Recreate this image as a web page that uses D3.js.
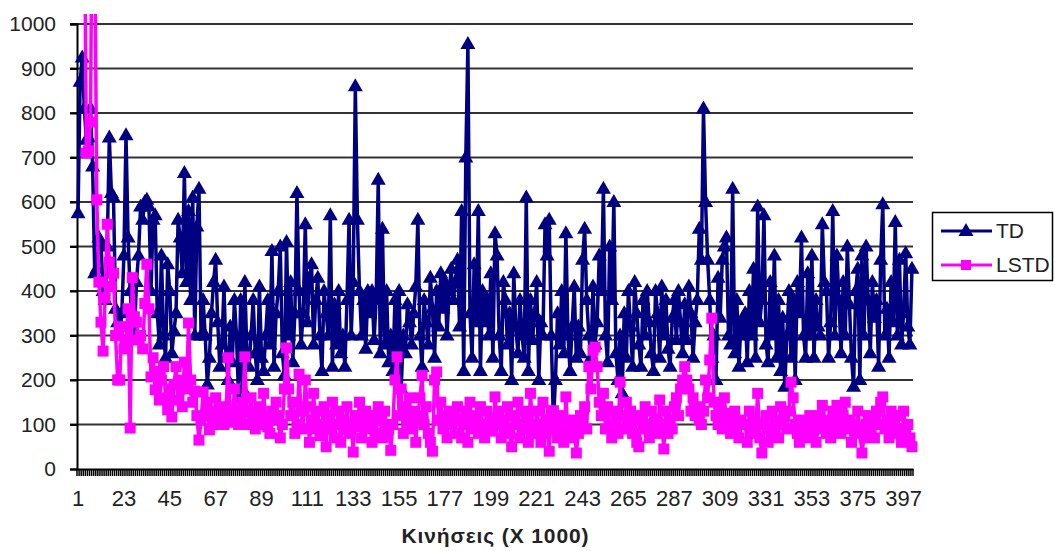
<!DOCTYPE html>
<html>
<head>
<meta charset="utf-8">
<script src="https://cdn.jsdelivr.net/npm/d3@7"></script>
<style>
  body { margin: 0; background: #fff; }
  svg { display: block; font-family: "Liberation Sans", Arial, sans-serif; }
</style>
</head>
<body>
<div id="chart"></div>
<script>
// TD series, values (blocks of 20 moves)
var tdValues = [
  575, 870, 925, 810, 740, 745, 810, 680, 440, 450, 520, 510, 400, 380, 500, 745, 620, 610, 360, 330,
  300, 350, 480, 750, 520, 400, 330, 290, 420, 480, 590, 560, 600, 605, 590, 400, 560, 570, 350, 280,
  480, 300, 250, 460, 400, 260, 310, 350, 560, 520, 440, 665, 420, 580, 380, 610, 300, 545, 630, 300,
  380, 300, 190, 250, 350, 420, 470, 330, 230, 280, 410, 250, 200, 320, 240, 380, 300, 160, 380, 180,
  420, 260, 230, 300, 380, 260, 200, 410, 250, 220, 300, 380, 280, 490, 230, 350, 400, 500, 260, 210,
  510, 300, 420, 240, 350, 620, 400, 280, 350, 550, 330, 430, 460, 280, 380, 430, 300, 220, 400, 350,
  300, 570, 230, 370, 280, 400, 260, 300, 230, 380, 560, 300, 420, 860, 560, 400, 300, 380, 270, 400,
  350, 400, 290, 380, 650, 260, 540, 280, 400, 240, 300, 220, 380, 260, 400, 180, 300, 260, 370, 330,
  280, 350, 410, 560, 300, 230, 380, 330, 280, 430, 360, 250, 400, 320, 440, 360, 420, 300, 400, 450,
  380, 420, 470, 320, 580, 220, 700, 955, 350, 250, 460, 330, 580, 220, 400, 330, 380, 300, 440, 250,
  530, 480, 300, 220, 420, 380, 280, 350, 200, 440, 320, 260, 380, 300, 250, 610, 220, 380, 290, 350,
  420, 200, 330, 300, 550, 480, 560, 300, 105, 200, 350, 280, 400, 260, 530, 300, 220, 320, 410, 250,
  320, 260, 470, 540, 380, 300, 250, 410, 280, 330, 480, 400, 630, 300, 240, 500, 380, 600, 260, 200,
  300, 170, 350, 250, 400, 320, 230, 420, 350, 280, 230, 380, 300, 400, 330, 260, 220, 400, 350, 250,
  410, 300, 380, 270, 230, 340, 380, 290, 400, 330, 260, 370, 290, 410, 350, 250, 330, 380, 540, 470,
  810, 600, 470, 380, 250, 300, 200, 430, 340, 470, 500, 520, 300, 280, 630, 260, 380, 230, 330, 300,
  350, 240, 400, 300, 450, 250, 590, 330, 380, 570, 280, 240, 420, 300, 480, 250, 380, 220, 340, 185,
  300, 400, 250, 380, 200, 420, 350, 520, 300, 250, 440, 300, 480, 250, 380, 320, 300, 550, 420, 400,
  250, 330, 580, 300, 480, 380, 260, 420, 300, 500, 370, 250, 185, 400, 450, 200, 480, 300, 500, 380,
  260, 420, 340, 380, 230, 470, 595, 300, 360, 250, 420, 330, 555, 300, 470, 280, 350, 485, 320, 280,
  450
];

// LSTD series (first points go off the top of the chart)
var lstdValues = [
  1600, 2400, 1900, 1300, 710, 715, 780, 1500, 1200, 605, 420, 330, 265, 385, 550, 465, 410, 440, 300, 200,
  200, 320, 270, 283, 360, 92, 430, 342, 330, 290, 300, 270, 372, 460, 360, 207, 250, 178, 220, 155,
  200, 230, 160, 133, 180, 117, 190, 230, 155, 200, 140, 240, 180, 328, 200, 150, 175, 120, 65, 110,
  173, 120, 150, 88, 130, 100, 160, 115, 110, 140, 100, 130, 250, 120, 105, 180, 130, 100, 120, 150,
  252, 130, 100, 160, 120, 90, 110, 140, 100, 170, 120, 95, 80, 130, 110, 150, 120, 70, 100, 180,
  272, 180, 120, 150, 80, 100, 213, 130, 90, 200, 140, 60, 110, 170, 90, 130, 75, 100, 140, 50,
  120, 90, 150, 70, 100, 130, 60, 110, 90, 140, 80, 100, 38, 120, 95, 150, 70, 110, 130, 90,
  100, 60, 120, 80, 140, 110, 70, 130, 100, 90, 42, 100, 200, 252, 120, 180, 80, 140, 100, 160,
  90, 130, 60, 120, 160, 210, 100, 140, 80, 60, 40, 200, 218, 110, 150, 90, 120, 70, 130, 100,
  120, 80, 140, 110, 70, 100, 130, 60, 150, 90, 110, 120, 80, 140, 100, 70, 130, 90, 115, 85,
  162, 100, 130, 70, 110, 90, 140, 80, 50, 120, 100, 150, 70, 90, 130, 110, 60, 170, 100, 80,
  130, 100, 60, 150, 80, 110, 40, 130, 131, 90, 70, 120, 100, 60, 162, 80, 110, 70, 100, 36,
  80, 120, 100, 140, 90, 230, 180, 267, 274, 230, 150, 120, 170, 90, 140, 100, 70, 130, 110, 80,
  195, 120, 90, 150, 100, 130, 80, 110, 60, 50, 120, 90, 140, 100, 70, 130, 90, 110, 80, 155,
  100, 45, 130, 80, 110, 90, 140, 160, 120, 180, 200, 230, 200, 180, 130, 160, 120, 140, 110, 100,
  130, 200, 160, 245, 339, 150, 120, 100, 140, 90, 160, 110, 125, 80, 100, 130, 90, 70, 110, 100,
  100, 60, 130, 80, 110, 90, 170, 70, 36, 100, 120, 60, 90, 130, 80, 110, 70, 140, 100, 120,
  90, 130, 195, 160, 100, 80, 60, 110, 90, 70, 100, 120, 80, 110, 60, 90, 120, 143, 100, 80,
  110, 70, 130, 90, 143, 100, 80, 120, 150, 90, 110, 60, 100, 80, 130, 90, 36, 70, 100, 120,
  80, 110, 70, 130, 100, 150, 162, 90, 110, 70, 130, 100, 80, 120, 90, 60, 130, 80, 100, 70,
  50
];

var categories = d3.range(1, tdValues.length + 1);
var labelCategories = categories.filter(function(c) { return (c - 1) % 22 === 0; });
var yTicks = d3.range(0, 1001, 100);
var seriesNames = ["TD", "LSTD"];
var seriesColors = ["#000080", "#ff00ff"];
var xTitle = "Κινήσεις (X 1000)";

var width = 1055, height = 551;
var plotLeft = 77, plotRight = 913, plotTop = 24, plotBottom = 469;

var svg = d3.select("#chart").append("svg")
  .attr("width", width)
  .attr("height", height);

var x = d3.scaleBand().domain(categories).range([plotLeft, plotRight]).padding(0);
var y = d3.scaleLinear().domain([0, 1000]).range([plotBottom, plotTop]);
var cx = function(c) { return x(c) + x.bandwidth() / 2; };

// gridlines
svg.append("g")
  .selectAll("line")
  .data(yTicks.filter(function(d) { return d > 0; }))
  .enter().append("line")
    .attr("x1", plotLeft - 7).attr("x2", plotRight)
    .attr("y1", function(d) { return y(d); })
    .attr("y2", function(d) { return y(d); })
    .attr("stroke", "#333")
    .attr("stroke-width", 2);

// y axis
var yAxis = svg.append("g")
  .attr("transform", "translate(" + plotLeft + ",0)")
  .call(d3.axisLeft(y).tickValues(yTicks).tickSize(7).tickPadding(14).tickFormat(d3.format("d")));
yAxis.select(".domain").attr("stroke", "#000").attr("stroke-width", 2);
yAxis.selectAll(".tick line").attr("stroke", "#000").attr("stroke-width", 2);
yAxis.selectAll("text").attr("font-size", 21).attr("fill", "#222")
  .attr("font-family", "Liberation Sans, Arial, sans-serif");

// category tick marks on x axis
svg.append("g")
  .selectAll("line")
  .data(categories.concat([categories.length + 1]))
  .enter().append("line")
    .attr("x1", function(c) { return c <= categories.length ? x(c) : plotRight; })
    .attr("x2", function(c) { return c <= categories.length ? x(c) : plotRight; })
    .attr("y1", plotBottom).attr("y2", plotBottom + 7)
    .attr("stroke", "#000")
    .attr("stroke-width", 1.5);

var xAxis = svg.append("g")
  .attr("transform", "translate(0," + plotBottom + ")")
  .call(d3.axisBottom(x).tickValues(labelCategories).tickSize(0).tickPadding(21));
xAxis.select(".domain").attr("stroke", "#000").attr("stroke-width", 2);
xAxis.selectAll("text").attr("font-size", 22).attr("fill", "#222")
  .attr("font-family", "Liberation Sans, Arial, sans-serif");

// series
svg.append("clipPath").attr("id", "plotclip")
  .append("rect").attr("x", 0).attr("y", 14).attr("width", plotRight + 10).attr("height", plotBottom - 14 + 5);

var plot = svg.append("g").attr("clip-path", "url(#plotclip)");

var line = d3.line()
  .x(function(d) { return cx(d.c); })
  .y(function(d) { return y(d.v); });

var triangle = "M0,-8L7.5,5L-7.5,5Z";

function drawSeries(values, color, marker) {
  var pts = values.map(function(v, i) { return { c: categories[i], v: v }; });
  plot.append("path")
    .datum(pts)
    .attr("d", line)
    .attr("fill", "none")
    .attr("stroke", color)
    .attr("stroke-width", 3.5)
    .attr("stroke-linejoin", "round");
  var g = plot.append("g");
  if (marker === "triangle") {
    g.selectAll("path").data(pts).enter().append("path")
      .attr("d", triangle)
      .attr("transform", function(d) { return "translate(" + cx(d.c) + "," + y(d.v) + ")"; })
      .attr("fill", color);
  } else {
    g.selectAll("rect").data(pts).enter().append("rect")
      .attr("x", function(d) { return cx(d.c) - 5.5; })
      .attr("y", function(d) { return y(d.v) - 5.5; })
      .attr("width", 11).attr("height", 11)
      .attr("fill", color);
  }
}

drawSeries(tdValues, seriesColors[0], "triangle");
drawSeries(lstdValues, seriesColors[1], "square");

// x title
svg.append("text")
  .attr("x", (plotLeft + plotRight) / 2)
  .attr("y", 543)
  .attr("text-anchor", "middle")
  .attr("font-size", 21)
  .attr("font-weight", "bold")
  .attr("fill", "#222")
  .attr("textLength", 187)
  .attr("lengthAdjust", "spacing")
  .text(xTitle);

// legend
var legend = svg.append("g");
legend.append("rect")
  .attr("x", 932.5).attr("y", 212.5)
  .attr("width", 120).attr("height", 68)
  .attr("fill", "#fff").attr("stroke", "#000").attr("stroke-width", 1.5);

seriesNames.forEach(function(name, i) {
  var ly = 231 + i * 34;
  legend.append("line")
    .attr("x1", 941).attr("x2", 992)
    .attr("y1", ly).attr("y2", ly)
    .attr("stroke", seriesColors[i]).attr("stroke-width", 3);
  if (i === 0) {
    legend.append("path").attr("d", triangle)
      .attr("transform", "translate(966," + ly + ")")
      .attr("fill", seriesColors[i]);
  } else {
    legend.append("rect")
      .attr("x", 961).attr("y", ly - 5).attr("width", 10).attr("height", 10)
      .attr("fill", seriesColors[i]);
  }
  legend.append("text")
    .attr("x", 996).attr("y", ly + 7)
    .attr("font-size", 21).attr("fill", "#222")
    .text(name);
});
</script>
</body>
</html>
